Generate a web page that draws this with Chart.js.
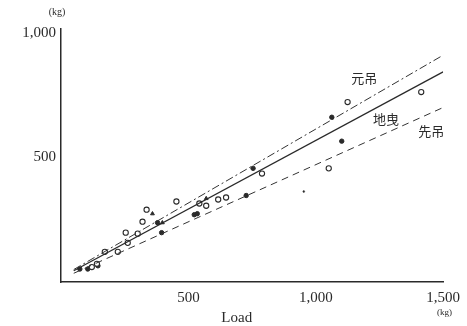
<!DOCTYPE html>
<html>
<head>
<meta charset="utf-8">
<script src="https://cdn.jsdelivr.net/npm/chart.js@4"></script>
<style>
html,body{margin:0;padding:0;background:#fff;}
#wrap{width:467px;height:326px;position:relative;}
</style>
</head>
<body>
<div id="wrap"><canvas id="c" width="467" height="326"></canvas></div>
<script>
// Tick labels
const xTicks = [500, 1000, 1500];
const yTicks = [500, 1000];

// Regression lines (endpoints)
const lineMotoX = [50, 1500];
const lineMotoY = [50, 910];
const lineJiX = [50, 1500];
const lineJiY = [45, 843];
const lineSakiX = [50, 1500];
const lineSakiY = [35, 700];

// Observed points
const openX = [121, 141, 172, 223, 262, 254, 301, 320, 336, 453, 543, 570, 617, 648, 789, 1051, 1125, 1414];
const openY = [60, 73, 121, 121, 157, 198, 194, 242, 290, 323, 315, 306, 331, 339, 435, 456, 722, 762];
const filledX = [74, 105, 145, 379, 395, 523, 535, 727, 754, 1063, 1102];
const filledY = [52, 52, 65, 238, 198, 270, 274, 347, 456, 661, 565];
const triX = [359, 398, 570];
const triY = [274, 238, 335];
const dotX = [953];
const dotY = [363];

const lineLabels = ['元吊', '地曳', '先吊'];

function pts(xs, ys){ return xs.map((x,i)=>({x:x, y:ys[i]})); }

const ink = '#2a2a2a';

const textPlugin = {
  id: 'texts',
  afterDraw(chart){
    const ctx = chart.ctx;
    const xs = chart.scales.x, ys = chart.scales.y;
    ctx.save();
    ctx.fillStyle = ink;
    ctx.textAlign = 'center';
    ctx.textBaseline = 'middle';
    ctx.font = '15px "Liberation Serif"';
    ctx.fillText('Load', xs.getPixelForValue(690), 318);
    ctx.font = '10px "Liberation Serif"';
    ctx.fillText('(kg)', 57, 12);
    ctx.font = '9px "Liberation Serif"';
    ctx.fillText('(kg)', xs.getPixelForValue(1505), 313);
    ctx.font = '13px "Noto Sans CJK JP"';
    ctx.fillText(lineLabels[0], xs.getPixelForValue(1190), ys.getPixelForValue(818));
    ctx.fillText(lineLabels[1], xs.getPixelForValue(1276), ys.getPixelForValue(655));
    ctx.fillText(lineLabels[2], xs.getPixelForValue(1453), ys.getPixelForValue(605));
    ctx.restore();
  }
};

new Chart(document.getElementById('c'), {
  type: 'scatter',
  data: {
    datasets: [
      {label: lineLabels[0], type:'line', data: pts(lineMotoX, lineMotoY), borderColor: '#333', borderWidth: 1, borderDash: [8,3,2,3], pointRadius: 0, fill:false},
      {label: lineLabels[1], type:'line', data: pts(lineJiX, lineJiY), borderColor: ink, borderWidth: 1.3, pointRadius: 0, fill:false},
      {label: lineLabels[2], type:'line', data: pts(lineSakiX, lineSakiY), borderColor: '#333', borderWidth: 1, borderDash: [7,5], pointRadius: 0, fill:false},
      {label: 'open', data: pts(openX, openY), pointStyle: 'circle', pointRadius: 2.6, borderColor: ink, borderWidth: 1.1, backgroundColor: '#fff'},
      {label: 'filled', data: pts(filledX, filledY), pointStyle: 'circle', pointRadius: 2.2, borderColor: ink, borderWidth: 1, backgroundColor: ink},
      {label: 'tri', data: pts(triX, triY), pointStyle: 'triangle', pointRadius: 2.2, borderColor: ink, borderWidth: 1, backgroundColor: ink},
      {label: 'dot', data: pts(dotX, dotY), pointStyle: 'circle', pointRadius: 0.9, borderColor: ink, borderWidth: 0.5, backgroundColor: ink}
    ]
  },
  options: {
    responsive: false,
    animation: false,
    layout: {padding: {top: 29, right: 21, left: 0, bottom: 0}},
    plugins: {legend: {display: false}, tooltip: {enabled: false}},
    scales: {
      x: {
        type: 'linear', min: 0, max: 1500,
        grid: {display: false, drawTicks: false},
        border: {display: true, color: ink, width: 1.5},
        afterBuildTicks: s => { s.ticks = xTicks.map(v => ({value: v})); },
        afterFit: s => { s.height = 44; },
        ticks: {color: ink, padding: 7, maxRotation: 0, font: {family: 'Liberation Serif', size: 15},
          callback: v => v.toLocaleString('en-US')}
      },
      y: {
        type: 'linear', min: 0, max: 1015,
        grid: {display: false, drawTicks: false},
        border: {display: true, color: ink, width: 1.5},
        afterBuildTicks: s => { s.ticks = yTicks.map(v => ({value: v})); },
        afterFit: s => { s.width = 61; },
        ticks: {color: ink, padding: 5, font: {family: 'Liberation Serif', size: 15},
          callback: v => v.toLocaleString('en-US')}
      }
    }
  },
  plugins: [textPlugin]
});
</script>
</body>
</html>
